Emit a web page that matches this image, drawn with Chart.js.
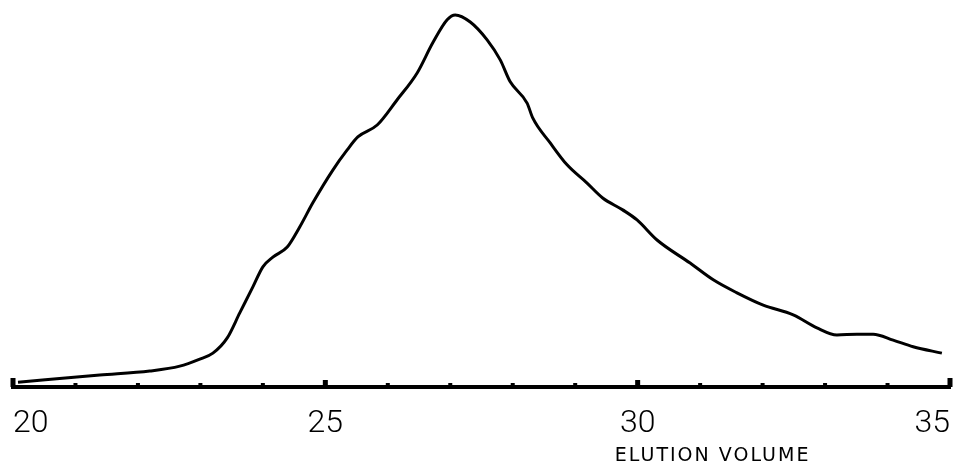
<!DOCTYPE html>
<html>
<head>
<meta charset="utf-8">
<script src="https://cdn.jsdelivr.net/npm/chart.js@4/dist/chart.umd.min.js"></script>
<style>
  html, body { margin: 0; padding: 0; background: #fff; }
  canvas { display: block; }
</style>
</head>
<body>
<canvas id="elutionChart" width="960" height="468"></canvas>
<script>
// --- Elution profile ---
const elutionVolume = [
  20.08, 21.39, 22.19, 22.67, 22.99, 23.2, 23.43, 23.63, 23.84, 24.0,
  24.16, 24.39, 24.59, 24.8, 25.12, 25.35, 25.52, 25.83, 26.15, 26.47,
  26.72, 26.95, 27.08, 27.32, 27.59, 27.8, 27.96, 28.23, 28.32, 28.6,
  28.87, 29.19, 29.44, 29.76, 29.99, 30.31, 30.84, 31.21, 31.59, 32.01,
  32.49, 32.87, 33.19, 33.51, 33.77, 34.09, 34.41, 34.87,
];
const absorbance = [
  0.013, 0.032, 0.043, 0.056, 0.075, 0.091, 0.132, 0.199, 0.269, 0.323,
  0.349, 0.376, 0.43, 0.495, 0.583, 0.637, 0.672, 0.704, 0.772, 0.844,
  0.925, 0.987, 1.0, 0.981, 0.933, 0.879, 0.82, 0.763, 0.723, 0.656,
  0.597, 0.548, 0.508, 0.476, 0.449, 0.395, 0.333, 0.288, 0.253, 0.22,
  0.194, 0.159, 0.14, 0.142, 0.142, 0.126, 0.108, 0.091,
];
const labelledTicks = [20, 25, 30, 35];
const axisTitle = "ELUTION VOLUME";

const labelFont = "Roboto, 'DejaVu Sans Condensed', sans-serif";

// short upward tick marks on the axis + axis caption
const axisTicksPlugin = {
  id: "axisTicks",
  afterDraw(chart) {
    const xs = chart.scales.x;
    const ctx = chart.ctx;
    const base = chart.chartArea.bottom;
    ctx.save();
    ctx.fillStyle = "#000";
    xs.ticks.forEach((t) => {
      const px = xs.getPixelForValue(t.value);
      const major = labelledTicks.includes(t.value);
      const isEnd = t.value === xs.min || t.value === xs.max;
      const h = isEnd ? 9 : major ? 7 : 4;
      const w = major ? 5 : 4;
      ctx.fillRect(px - w / 2, base - h, w, h);
    });
    ctx.font = "19px 'DejaVu Sans', sans-serif";
    ctx.letterSpacing = "2px";
    ctx.textAlign = "center";
    ctx.textBaseline = "alphabetic";
    ctx.fillText(axisTitle, xs.getPixelForValue(31.2), 461);
    ctx.restore();
  },
};

const ctx = document.getElementById("elutionChart").getContext("2d");

new Chart(ctx, {
  type: "line",
  data: {
    datasets: [
      {
        data: elutionVolume.map((v, i) => ({ x: v, y: absorbance[i] })),
        borderColor: "#000",
        borderWidth: 3,
        pointRadius: 0,
        fill: false,
        cubicInterpolationMode: "monotone",
      },
    ],
  },
  options: {
    responsive: false,
    animation: false,
    devicePixelRatio: 1,
    layout: { padding: { left: 13, right: 10, top: 0, bottom: 0 } },
    scales: {
      x: {
        type: "linear",
        min: 20,
        max: 35,
        afterFit(scale) {
          scale.height = 81;
        },
        // invisible tick lines only push the labels down
        grid: {
          display: true,
          drawOnChartArea: false,
          drawTicks: true,
          tickLength: 18,
          color: "rgba(0,0,0,0)",
        },
        border: { display: true, color: "#000", width: 4 },
        ticks: {
          stepSize: 1,
          autoSkip: false,
          maxRotation: 0,
          align: "inner",
          padding: 0,
          color: "#000",
          font: { family: labelFont, size: 32, weight: "300" },
          callback: (v) => (labelledTicks.includes(v) ? String(v) : ""),
        },
      },
      y: { display: false, min: 0, max: 1.04 },
    },
    plugins: {
      legend: { display: false },
      tooltip: { enabled: false },
    },
  },
  plugins: [axisTicksPlugin],
});
</script>
</body>
</html>
